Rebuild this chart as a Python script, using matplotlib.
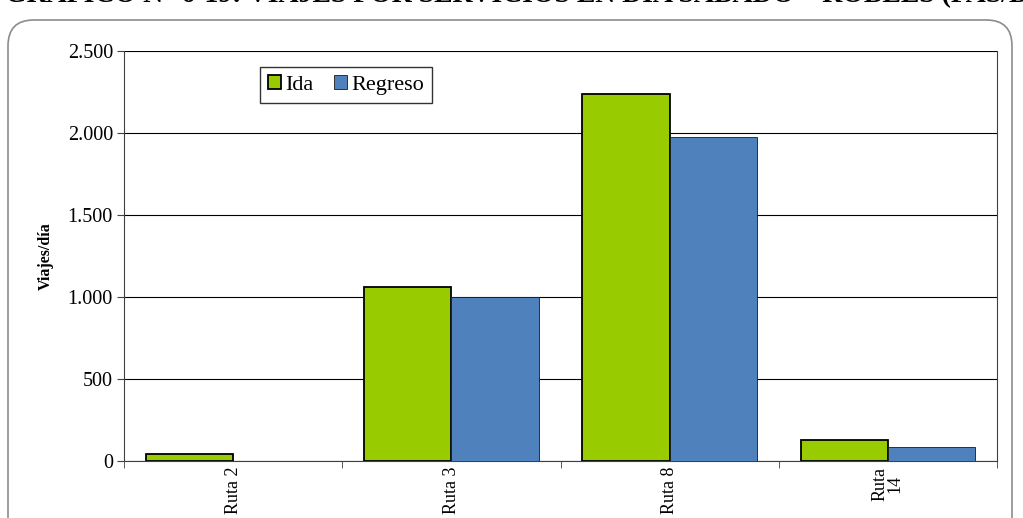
import matplotlib
matplotlib.use("Agg")
import matplotlib.pyplot as plt
import numpy as np
from matplotlib.patches import FancyBboxPatch
from matplotlib.ticker import FuncFormatter

categories = ["Ruta 2", "Ruta 3", "Ruta 8", "Ruta\n14"]
ida = [45, 1062, 2238, 128]
regreso = [0, 1000, 1975, 85]
series_names = ["Ida", "Regreso"]
title = "GRÁFICO N° 6-19: VIAJES POR SERVICIOS EN DÍA SÁBADO – ROBLES (PAS/DÍA)"

plt.rcParams['font.family'] = ['Liberation Serif', 'DejaVu Serif']

fig = plt.figure(figsize=(10.23, 5.18), dpi=100)

# rounded frame
frame = FancyBboxPatch((8/1023, -0.05), (1012-8)/1023, (518-20)/518 + 0.05,
                       boxstyle="round,pad=0,rounding_size=0.025",
                       transform=fig.transFigure, fill=False,
                       edgecolor="#8c8c8c", linewidth=1.2, mutation_aspect=2.0)
fig.patches.append(frame)

fig.text(5/1023, 1.0 + 0.012, title, ha="left", va="center", fontsize=20,
         fontweight="bold")

ax = fig.add_axes([124/1023, 1 - 461/518, 873/1023, 410/518])
x = np.arange(len(categories))
w = 0.4
ax.bar(x - w/2, ida, w, color="#99CC00", edgecolor="black", linewidth=1.3,
       label=series_names[0], zorder=3)
ax.bar(x + w/2, regreso, w, color="#4F81BD", edgecolor="#1a1a1a", linewidth=0.6,
       label=series_names[1], zorder=3)

ax.set_xlim(-0.5, len(categories) - 0.5)
ax.set_ylim(0, 2500)
ax.set_yticks(np.arange(0, 2501, 500))
ax.yaxis.set_major_formatter(FuncFormatter(lambda v, p: f"{int(v):,}".replace(",", ".")))
ax.grid(axis="y", color="black", linewidth=0.8, zorder=0)
ax.set_axisbelow(True)

ax.set_xticks(x)
ax.set_xticklabels(categories, rotation=90, fontsize=13, va="top", linespacing=0.85)
ax.tick_params(axis="x", length=0, pad=4)
ax.set_xticks(np.arange(-0.5, len(categories), 1), minor=True)
ax.tick_params(axis="x", which="minor", length=5, color="#404040")
ax.tick_params(axis="y", length=5, labelsize=14.5, color="#404040", pad=3)
for s in ["top", "right"]:
    ax.spines[s].set_visible(False)
ax.spines["left"].set_color("#404040")
ax.spines["bottom"].set_color("#404040")
ax.plot([1, 1], [0, 1], transform=ax.transAxes, color="#404040", linewidth=0.8, clip_on=False)

ax.set_ylabel("Viajes/día", fontsize=11.5, fontweight="bold", labelpad=10)

leg = ax.legend(loc="upper left", bbox_to_anchor=(136/873, 1 - 5/410), ncol=2,
                fontsize=16, frameon=True, fancybox=False, edgecolor="black",
                handlelength=0.6, handleheight=0.6, handletextpad=0.2,
                columnspacing=0.9, borderpad=0.35)
leg.get_frame().set_linewidth(1.0)
fig.canvas.draw()
bb = leg.get_window_extent()
# shift legend so its left edge sits at x=260 px
dx = (260 - bb.x0) / (873)
leg.set_bbox_to_anchor((136/873 + dx, 1 - 5/410), transform=ax.transAxes)

fig.savefig("out.png", dpi=100)
